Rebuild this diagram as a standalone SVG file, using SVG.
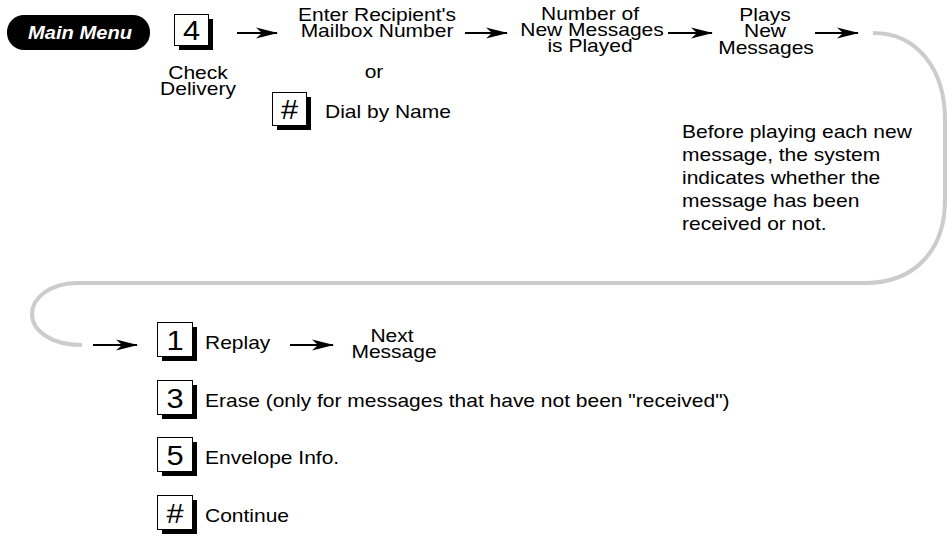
<svg xmlns="http://www.w3.org/2000/svg" width="947" height="538" viewBox="0 0 947 538">
<style>
  text { font-family: "Liberation Sans", Arial, sans-serif; fill: #000; }
  .t { font-size: 17.5px; }
  .c { text-anchor: middle; }
  .key { font-size: 28px; text-anchor: middle; }
  .box { fill: #fff; stroke: #000; stroke-width: 1; }
  .shadow { fill: #000; }
  .arrow { stroke: #000; stroke-width: 2; fill: none; marker-end: url(#ah); }
  .loop { stroke: #cccccc; stroke-width: 4; fill: none; }
</style>
<defs>
  <marker id="ah" viewBox="0 0 22 12" refX="21" refY="6" markerWidth="22" markerHeight="12" markerUnits="userSpaceOnUse" orient="auto">
    <path d="M0,0.5 L22,6 L0,11.5 L6,6 Z" fill="#000"/>
  </marker>
</defs>
<rect width="947" height="538" fill="#fff"/>

<g id="connectors">
  <path class="loop" d="M873,33 C918,33 945,70 945,120 L945,200 C945,250 915,283 865,283 L78,283 C50,283 32,298 32,314 C32,330 50,345 82,345"/>
  <line class="arrow" x1="237" y1="33" x2="277" y2="33"/>
  <line class="arrow" x1="465" y1="33" x2="507" y2="33"/>
  <line class="arrow" x1="668" y1="33" x2="712" y2="33"/>
  <line class="arrow" x1="815" y1="33" x2="858" y2="33"/>
  <line class="arrow" x1="93" y1="345" x2="137" y2="345"/>
  <line class="arrow" x1="290" y1="345" x2="333" y2="345"/>
</g>

<g id="main-menu">
  <rect x="7" y="15" width="143" height="35" rx="17" fill="#000"/>
  <text transform="translate(80,39) scale(1.12,1)" font-size="18" font-weight="bold" font-style="italic" text-anchor="middle" style="fill:#fff">Main Menu</text>
</g>

<g id="key-4">
  <rect class="shadow" x="179" y="19" width="34" height="31"/>
  <rect class="box" x="174.5" y="14.5" width="34" height="31"/>
  <text class="key" transform="translate(191.5,40) scale(1.1,1)">4</text>
  <text class="t c" transform="translate(198,79) scale(1.2,1)">Check</text>
  <text class="t c" transform="translate(198,95) scale(1.2,1)">Delivery</text>
</g>

<g id="enter-recipient">
  <text class="t c" transform="translate(377,21) scale(1.2,1)">Enter Recipient's</text>
  <text class="t c" transform="translate(377,37) scale(1.2,1)">Mailbox Number</text>
</g>

<g id="or-label">
  <text class="t c" transform="translate(374,78) scale(1.2,1)">or</text>
</g>

<g id="key-hash-dial">
  <rect class="shadow" x="277" y="97" width="34" height="33"/>
  <rect class="box" x="272.5" y="92.5" width="34" height="33"/>
  <text class="key" transform="translate(289.5,119) scale(1.1,1)">#</text>
  <text class="t" transform="translate(325,118) scale(1.2,1)">Dial by Name</text>
</g>

<g id="number-new">
  <text class="t c" transform="translate(590,20) scale(1.2,1)">Number of</text>
  <text class="t c" transform="translate(592,36) scale(1.2,1)">New Messages</text>
  <text class="t c" transform="translate(590,52) scale(1.2,1)">is Played</text>
</g>

<g id="plays-new">
  <text class="t c" transform="translate(765,21) scale(1.2,1)">Plays</text>
  <text class="t c" transform="translate(765,37) scale(1.2,1)">New</text>
  <text class="t c" transform="translate(766,54) scale(1.2,1)">Messages</text>
</g>

<g id="note">
  <text class="t" transform="translate(682,138) scale(1.2,1)">Before playing each new</text>
  <text class="t" transform="translate(682,161) scale(1.2,1)">message, the system</text>
  <text class="t" transform="translate(682,184) scale(1.2,1)">indicates whether the</text>
  <text class="t" transform="translate(682,207) scale(1.2,1)">message has been</text>
  <text class="t" transform="translate(682,230) scale(1.2,1)">received or not.</text>
</g>

<g id="key-1">
  <rect class="shadow" x="162" y="327" width="35" height="34"/>
  <rect class="box" x="157.5" y="322.5" width="35" height="34"/>
  <text class="key" transform="translate(175,350) scale(1.1,1)">1</text>
  <text class="t" transform="translate(205,349) scale(1.2,1)">Replay</text>
</g>

<g id="next-message">
  <text class="t c" transform="translate(392,342) scale(1.2,1)">Next</text>
  <text class="t c" transform="translate(394,358) scale(1.2,1)">Message</text>
</g>

<g id="key-3">
  <rect class="shadow" x="162" y="385" width="35" height="34"/>
  <rect class="box" x="157.5" y="380.5" width="35" height="34"/>
  <text class="key" transform="translate(175,408) scale(1.1,1)">3</text>
  <text class="t" transform="translate(205,407) scale(1.2,1)">Erase (only for messages that have not been "received")</text>
</g>

<g id="key-5">
  <rect class="shadow" x="162" y="442" width="35" height="34"/>
  <rect class="box" x="157.5" y="437.5" width="35" height="34"/>
  <text class="key" transform="translate(175,465) scale(1.1,1)">5</text>
  <text class="t" transform="translate(205,464) scale(1.2,1)">Envelope Info.</text>
</g>

<g id="key-hash-continue">
  <rect class="shadow" x="162" y="500" width="35" height="34"/>
  <rect class="box" x="157.5" y="495.5" width="35" height="34"/>
  <text class="key" transform="translate(175,523) scale(1.1,1)">#</text>
  <text class="t" transform="translate(205,522) scale(1.2,1)">Continue</text>
</g>
</svg>
